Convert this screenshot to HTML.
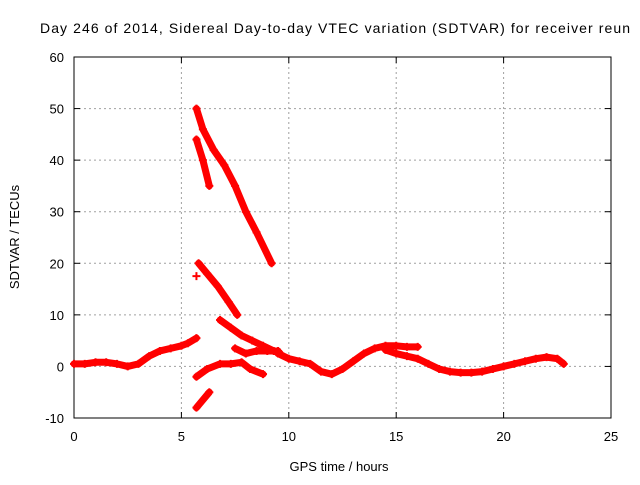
<!DOCTYPE html>
<html><head><meta charset="utf-8"><style>
body{margin:0;background:#fff;width:640px;height:480px;overflow:hidden}
svg{font-family:"Liberation Sans",sans-serif;font-size:13px}
</style></head><body>
<svg id="chart" width="640" height="480" xmlns="http://www.w3.org/2000/svg">
<rect width="640" height="480" fill="#fff"/>
<text x="40" y="33" font-size="14" textLength="590">Day 246 of 2014, Sidereal Day-to-day VTEC variation (SDTVAR) for receiver reun</text>
<g id="grid"></g><g id="axes"></g><g id="marks"></g>
<text x="339" y="471" text-anchor="middle">GPS time / hours</text>
<text transform="translate(19,237) rotate(-90)" text-anchor="middle">SDTVAR / TECUs</text>
</svg>
<script>
const xTicks=[0,5,10,15,20,25];
const yTicks=[-10,0,10,20,30,40,50,60];
const segA=[[0,0.5],[0.5,0.5],[1,0.8],[1.5,0.8],[2,0.5],[2.5,0],[3,0.5],[3.5,2],[4,3],[4.5,3.5],[5,4],[5.3,4.5],[5.7,5.5]];
const segB=[[9.5,2.5],[10,1.5],[10.5,1],[11,0.5],[11.5,-1],[12,-1.5],[12.5,-0.5],[13,1],[13.5,2.5],[14,3.5],[14.5,4],[15,4],[15.5,3.8],[16,3.8]];
const segB2=[[14.5,3.2],[15,2.5],[15.5,2],[16,1.5],[16.5,0.5],[17,-0.5],[17.5,-1],[18,-1.2],[18.5,-1.2],[19,-1],[19.5,-0.5],[20,0],[20.5,0.5],[21,1],[21.5,1.5],[22,1.8],[22.5,1.5],[22.8,0.5]];
const segC=[[5.7,50],[6,46],[6.5,42],[7,39],[7.5,35],[8,30],[8.5,26],[9.2,20]];
const segD=[[5.7,44],[6,40],[6.3,35]];
const segE=[[5.8,20],[6.2,18],[6.7,15.5],[7.2,12.5],[7.6,10]];
const segF=[[6.8,9],[7.3,7.5],[7.8,6],[8.3,5],[8.8,4],[9.3,3],[9.6,2.5]];
const segG=[[7.5,3.5],[8,2.5],[8.5,3],[9,3],[9.5,3]];
const segH=[[5.7,-2],[6.2,-0.5],[6.8,0.5],[7.3,0.5],[7.8,0.8],[8.2,-0.5],[8.8,-1.5]];
const segI=[[5.7,-8],[6.3,-5]];
const singles=[[5.7,17.5]];
const L=74,R=611,T=57,B=418;
const xs=v=>L+(v-0)/25*(R-L);
const ys=v=>B-(v+10)/70*(B-T);
const NS="http://www.w3.org/2000/svg";
function mk(tag,attrs,parent){const e=document.createElementNS(NS,tag);for(const k in attrs)e.setAttribute(k,attrs[k]);parent.appendChild(e);return e;}
const grid=document.getElementById('grid'),axes=document.getElementById('axes'),marks=document.getElementById('marks');
xTicks.forEach(t=>{const x=xs(t);
 if(t>0&&t<25){const g=mk('line',{x1:x,x2:x,y1:T,y2:B,stroke:'#a0a0a0','stroke-dasharray':'2,3'},grid);
 
 }
 mk('line',{x1:x,x2:x,y1:B,y2:B-6,stroke:'#000'},axes);mk('line',{x1:x,x2:x,y1:T,y2:T+6,stroke:'#000'},axes);
 const tx=mk('text',{x:x,y:B+23,'text-anchor':'middle'},axes);tx.textContent=t;
 
 });
yTicks.forEach(t=>{const y=ys(t);
 if(t>-10&&t<60){const g=mk('line',{x1:L,x2:R,y1:y,y2:y,stroke:'#a0a0a0','stroke-dasharray':'2,3'},grid);
 
 }
 mk('line',{x1:L,x2:L+6,y1:y,y2:y,stroke:'#000'},axes);mk('line',{x1:R,x2:R-6,y1:y,y2:y,stroke:'#000'},axes);
 const tx=mk('text',{x:L-10,y:y+5,'text-anchor':'end'},axes);tx.textContent=t;
 
 });
const frame=mk('rect',{x:L,y:T,width:R-L,height:B-T,fill:'none',stroke:'#000'},axes);


const segs=[segA,segB,segB2,segC,segD,segE,segF,segG,segH,segI,singles];
segs.forEach(s=>{
 if(s.length>1){const p=mk('polyline',{points:s.map(d=>xs(d[0])+','+ys(d[1])).join(' '),fill:'none',stroke:'#f00','stroke-width':7,'stroke-linejoin':'round','stroke-linecap':'round'},marks);
 
 }
 s.forEach(d=>{const x=xs(d[0]),y=ys(d[1]);
  const m=mk('path',{d:`M${x-4},${y}h8M${x},${y-4}v8`,stroke:'#f00','stroke-width':2},marks);
  
  });
});
</script>
</body></html>
